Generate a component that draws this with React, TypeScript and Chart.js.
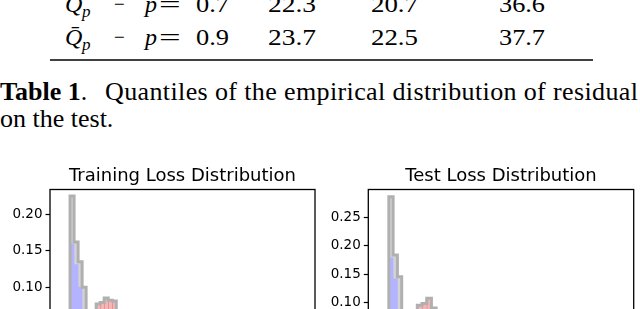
import React, { useEffect, useRef } from "react";
import { Chart, registerables } from "chart.js";

Chart.register(...registerables);

// ---------- Table / caption text ----------
const tableRowLabels = ["0.7", "0.9"];
const tableCol1 = ["22.3", "23.7"];
const tableCol2 = ["20.7", "22.5"];
const tableCol3 = ["36.6", "37.7"];
const captionBold = "Table 1";
const captionLine1 = "Quantiles of the empirical distribution of residual";
const captionLine2 = "on the test.";

// ---------- Chart titles ----------
const trainTitle = "Training Loss Distribution";
const testTitle = "Test Loss Distribution";

// ---------- Axes ----------
const trainXMax = 66;
const testXMax = 62;
const trainYMax = 0.234;
const testYMax = 0.2986;
const yTickStep = 0.05;

// ---------- Training histograms (bin edges, densities) ----------
const trainTotalEdges = [5, 6, 7, 8, 9, 10, 11, 11.5, 12.5, 13.5, 14.5, 15.5, 16.5, 17.5, 18.5, 19.5, 20.5];
const trainTotalValues = [0.225, 0.162, 0.135, 0.1, 0.058, 0.034, 0.022, 0.077, 0.079, 0.085, 0.082, 0.081, 0.06, 0.045, 0.03, 0.016];
const trainBlueEdges = [5, 6, 7, 8, 9, 10, 11];
const trainBlueValues = [0.159, 0.131, 0.1, 0.055, 0.03, 0.018];
const trainRedEdges = [11.5, 12.5, 13.5, 14.5, 15.5, 16.5, 17.5, 18.5, 19.5, 20.5];
const trainRedValues = [0.076, 0.079, 0.084, 0.082, 0.081, 0.058, 0.043, 0.028, 0.014];

// ---------- Test histograms ----------
const testTotalEdges = [4.8, 5.8, 6.8, 7.8, 8.8, 9.8, 10.8, 11.45, 12.55, 13.65, 14.75, 15.85, 16.95, 18.05, 19.15];
const testTotalValues = [0.286, 0.184, 0.146, 0.078, 0.048, 0.03, 0.02, 0.096, 0.099, 0.108, 0.091, 0.072, 0.052, 0.034];
const testBlueEdges = [4.8, 5.8, 6.8, 7.8, 8.8, 9.8, 10.8];
const testBlueValues = [0.179, 0.142, 0.082, 0.046, 0.028, 0.016];
const testRedEdges = [11.45, 12.55, 13.65, 14.75, 15.85, 16.95, 18.05, 19.15];
const testRedValues = [0.096, 0.099, 0.108, 0.091, 0.072, 0.052, 0.034];

function stepPoints(edges: number[], values: number[]) {
  const pts: { x: number; y: number }[] = [{ x: edges[0], y: 0 }];
  values.forEach((v, i) => pts.push({ x: edges[i], y: v }));
  pts.push({ x: edges[edges.length - 1], y: 0 });
  return pts;
}

function barPoints(edges: number[], values: number[]) {
  return values.map((v, i) => ({ x: (edges[i] + edges[i + 1]) / 2, y: v }));
}

const framePlugin = {
  id: "frame",
  afterDatasetsDraw(chart: any) {
    const { ctx, chartArea } = chart;
    const { left, top, right, bottom } = chartArea;
    ctx.save();
    ctx.strokeStyle = "#000";
    ctx.lineWidth = 1.3;
    ctx.strokeRect(left, top, right - left, bottom - top);
    ctx.restore();
  },
};

type HistProps = {
  left: number;
  title: string;
  xMax: number;
  yMax: number;
  yAxisWidth: number;
  padRight: number;
  totalEdges: number[];
  totalValues: number[];
  blueEdges: number[];
  blueValues: number[];
  redEdges: number[];
  redValues: number[];
};

function HistChart(p: HistProps) {
  const ref = useRef<HTMLCanvasElement | null>(null);
  useEffect(() => {
    if (!ref.current) return;
    const chart = new Chart(ref.current, {
      type: "bar",
      data: {
        datasets: [
          {
            type: "line",
            label: "total outline",
            data: stepPoints(p.totalEdges, p.totalValues),
            stepped: "before",
            borderColor: "#b0b0b0",
            borderWidth: 3,
            pointRadius: 0,
            fill: false,
            xAxisID: "x",
            order: 0,
          } as any,
          {
            type: "bar",
            label: "red",
            data: barPoints(p.redEdges, p.redValues),
            backgroundColor: "#f6b6b6",
            borderColor: "#e39090",
            borderWidth: { left: 1, right: 0, top: 0, bottom: 0 },
            borderSkipped: false,
            grouped: false,
            barPercentage: 1,
            categoryPercentage: 1,
            xAxisID: "x2",
            order: 1,
          } as any,
          {
            type: "bar",
            label: "blue",
            data: barPoints(p.blueEdges, p.blueValues),
            backgroundColor: "#b3b3ff",
            borderWidth: 0,
            grouped: false,
            barPercentage: 1,
            categoryPercentage: 1,
            xAxisID: "x",
            order: 2,
          } as any,
          {
            type: "line",
            label: "total fill",
            data: stepPoints(p.totalEdges, p.totalValues),
            stepped: "before",
            borderColor: "transparent",
            borderWidth: 0,
            backgroundColor: "#d4d4d4",
            fill: "origin",
            pointRadius: 0,
            xAxisID: "x",
            order: 3,
          } as any,
        ],
      },
      options: {
        animation: false,
        responsive: false,
        events: [],
        layout: { padding: { left: 0, right: p.padRight, top: 0, bottom: 0 } },
        plugins: {
          legend: { display: false },
          tooltip: { enabled: false },
          title: {
            display: true,
            text: p.title,
            fullSize: false,
            color: "#000",
            font: { family: "DejaVu Sans", size: 18, weight: "normal" as any, lineHeight: 1.2 },
            padding: { top: 5.2, bottom: 2.7 },
          },
        },
        scales: {
          x: {
            type: "linear",
            min: 0,
            max: p.xMax,
            offset: false,
            grid: { display: false },
            ticks: { display: false },
            border: { display: false },
            afterFit: (s: any) => {
              s.height = 20;
            },
          },
          x2: {
            type: "linear",
            min: 0,
            max: p.xMax,
            offset: false,
            display: false,
          },
          y: {
            type: "linear",
            min: 0,
            max: p.yMax,
            ticks: {
              stepSize: yTickStep,
              includeBounds: false,
              color: "#000",
              padding: 3,
              font: { family: "DejaVu Sans", size: 13.5 },
              callback: (v: any) => Number(v).toFixed(2),
            },
            grid: {
              drawOnChartArea: false,
              drawTicks: true,
              tickLength: 4.5,
              tickColor: "#000",
              tickWidth: 1.2,
            },
            border: { display: false },
            afterFit: (s: any) => {
              s.width = p.yAxisWidth;
            },
          },
        } as any,
      },
      plugins: [framePlugin],
    });
    return () => chart.destroy();
  }, []);
  return (
    <canvas
      ref={ref}
      width={320}
      height={220}
      style={{ position: "absolute", left: p.left, top: 160, width: 320, height: 220 }}
    />
  );
}

const serif = "'Liberation Serif', 'Times New Roman', serif";

function TableRow({ y, label, c1, c2, c3 }: { y: number; label: string; c1: string; c2: string; c3: string }) {
  const common = { fontFamily: serif, fontSize: 24, fill: "#000" };
  return (
    <g>
      <text x={65} y={y} {...common} fontStyle="italic">{"Q\u0304"}</text>
      <text x={82} y={y + 5} {...common} fontSize={17} fontStyle="italic">p</text>
      <text transform={`translate(114 ${y}) scale(0.8 1)`} {...common}>{"\u2212"}</text>
      <text x={145} y={y} {...common} fontStyle="italic">p</text>
      <text transform={`translate(159 ${y}) scale(1.6 1)`} {...common}>=</text>
      <text x={196} y={y} {...common} textLength={33} lengthAdjust="spacingAndGlyphs">{label}</text>
      <text x={268} y={y} {...common} textLength={48} lengthAdjust="spacingAndGlyphs">{c1}</text>
      <text x={371} y={y} {...common} textLength={47} lengthAdjust="spacingAndGlyphs">{c2}</text>
      <text x={499} y={y} {...common} textLength={46} lengthAdjust="spacingAndGlyphs">{c3}</text>
    </g>
  );
}

export default function App() {
  useEffect(() => {
    document.body.style.margin = "0";
  }, []);
  return (
    <div
      style={{
        position: "absolute",
        left: 0,
        top: 0,
        width: 640,
        height: 309,
        overflow: "hidden",
        background: "#fff",
      }}
    >
      <svg width={640} height={160} style={{ position: "absolute", left: 0, top: 0 }}>
        <TableRow y={12} label={tableRowLabels[0]} c1={tableCol1[0]} c2={tableCol2[0]} c3={tableCol3[0]} />
        <TableRow y={45} label={tableRowLabels[1]} c1={tableCol1[1]} c2={tableCol2[1]} c3={tableCol3[1]} />
        <line x1={50} x2={593} y1={60} y2={60} stroke="#000" strokeWidth={1.6} />
        <text y={100} fontFamily={serif} fontSize={26} fill="#000">
          <tspan x={0} fontWeight="bold">{captionBold}</tspan>
          <tspan>.</tspan>
        </text>
        <text x={105} y={100} fontFamily={serif} fontSize={26} fill="#000" textLength={533} lengthAdjust="spacing">
          {captionLine1}
        </text>
        <text x={0} y={127} fontFamily={serif} fontSize={26} fill="#000">{captionLine2}</text>
      </svg>
      <HistChart
        left={0}
        title={trainTitle}
        xMax={trainXMax}
        yMax={trainYMax}
        yAxisWidth={50}
        padRight={5}
        totalEdges={trainTotalEdges}
        totalValues={trainTotalValues}
        blueEdges={trainBlueEdges}
        blueValues={trainBlueValues}
        redEdges={trainRedEdges}
        redValues={trainRedValues}
      />
      <HistChart
        left={320}
        title={testTitle}
        xMax={testXMax}
        yMax={testYMax}
        yAxisWidth={48.3}
        padRight={6.3}
        totalEdges={testTotalEdges}
        totalValues={testTotalValues}
        blueEdges={testBlueEdges}
        blueValues={testBlueValues}
        redEdges={testRedEdges}
        redValues={testRedValues}
      />
    </div>
  );
}
